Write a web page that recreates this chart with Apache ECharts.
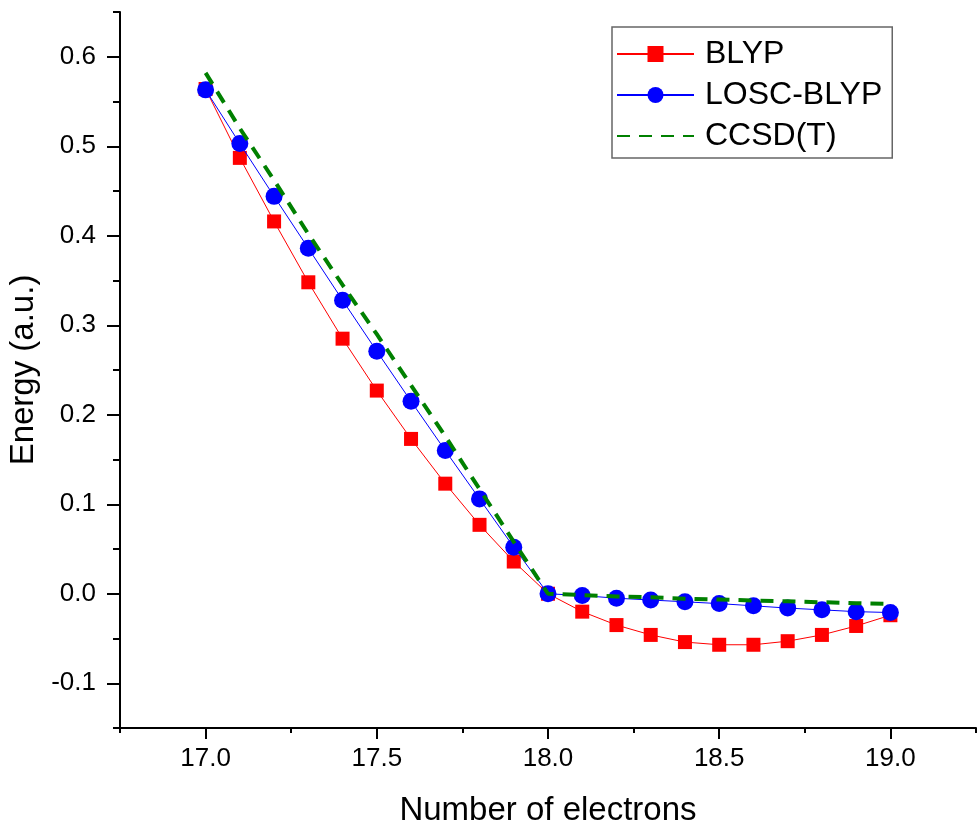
<!DOCTYPE html>
<html>
<head>
<meta charset="utf-8">
<title>energy</title>
<style>
  body { margin: 0; background: #fff; }
</style>
</head>
<body>
<div id="main" style="width: 978px; height: 827px;"></div>
<script src="https://cdn.jsdelivr.net/npm/echarts@6/dist/echarts.min.js"></script>
<script>
var electrons = [17.0, 17.1, 17.2, 17.3, 17.4, 17.5, 17.6, 17.7, 17.8, 17.9, 18.0,
                 18.1, 18.2, 18.3, 18.4, 18.5, 18.6, 18.7, 18.8, 18.9, 19.0];
var blyp = [0.564, 0.487, 0.416, 0.348, 0.285, 0.227, 0.173, 0.123, 0.077, 0.036, 0.0,
            -0.020, -0.035, -0.046, -0.054, -0.057, -0.057, -0.053, -0.046, -0.036, -0.024];
var losc = [0.563, 0.503, 0.444, 0.386, 0.328, 0.271, 0.215, 0.160, 0.106, 0.052, 0.0,
            -0.002, -0.005, -0.007, -0.009, -0.011, -0.0135, -0.016, -0.018, -0.020, -0.021];
var ccsdt = [0.582, 0.520, 0.462, 0.402, 0.345, 0.290, 0.233, 0.176, 0.117, 0.058, 0.0,
             -0.0015, -0.003, -0.004, -0.0055, -0.0065, -0.0075, -0.0085, -0.0095, -0.0105, -0.0115];
var xLabels = [17.0, 17.5, 18.0, 18.5, 19.0];
var yLabels = [-0.1, 0.0, 0.1, 0.2, 0.3, 0.4, 0.5, 0.6];

function pairs(ys) {
    return electrons.map(function (x, i) { return [x, ys[i]]; });
}

var myChart = echarts.init(document.getElementById('main'));
var font = 'Liberation Sans, Arial, sans-serif';

var option = {
    backgroundColor: '#fff',
    animation: false,
    grid: { left: 120, right: 2, top: 12, bottom: 99, containLabel: false, outerBoundsMode: 'none' },
    legend: {
        orient: 'vertical',
        left: 612,
        top: 27,
        width: 287,
        height: 132,
        padding: [11, 10, 6, 4],
        itemGap: 9,
        itemWidth: 77,
        itemHeight: 20,
        borderColor: '#666',
        borderWidth: 1.5,
        textStyle: { fontFamily: font, fontSize: 32, color: '#000', padding: [0, 0, 0, 6] },
        data: ['BLYP', 'LOSC-BLYP', { name: 'CCSD(T)', itemStyle: { opacity: 0 } }]
    },
    xAxis: [{
        type: 'value',
        min: 16.75,
        max: 19.25,
        interval: 0.25,
        name: 'Number of electrons',
        nameLocation: 'middle',
        nameGap: 66,
        nameTextStyle: { fontFamily: font, fontSize: 33, color: '#000' },
        splitLine: { show: false },
        axisLine: { onZero: false, lineStyle: { color: '#000', width: 2 } },
        axisTick: { customValues: xLabels, length: 11, lineStyle: { color: '#000', width: 2 } },
        axisLabel: {
            customValues: xLabels,
            fontFamily: font, fontSize: 26, color: '#000', margin: 18,
            formatter: function (v) { return v.toFixed(1); }
        }
    }, {
        type: 'value',
        position: 'bottom',
        min: 16.75,
        max: 19.25,
        interval: 0.25,
        splitLine: { show: false },
        axisLine: { show: false, onZero: false },
        axisTick: { length: 5, lineStyle: { color: '#000', width: 2 } },
        axisLabel: { show: false }
    }],
    yAxis: [{
        type: 'value',
        min: -0.15,
        max: 0.65,
        interval: 0.05,
        name: 'Energy (a.u.)',
        nameLocation: 'middle',
        nameGap: 76,
        nameTextStyle: { fontFamily: font, fontSize: 33, color: '#000' },
        splitLine: { show: false },
        axisLine: { onZero: false, lineStyle: { color: '#000', width: 2 } },
        axisTick: { customValues: yLabels, length: 13, lineStyle: { color: '#000', width: 2 } },
        axisLabel: {
            customValues: yLabels,
            fontFamily: font, fontSize: 26, color: '#000', margin: 24,
            formatter: function (v) { return v.toFixed(1); }
        }
    }, {
        type: 'value',
        position: 'left',
        min: -0.15,
        max: 0.65,
        interval: 0.05,
        splitLine: { show: false },
        axisLine: { show: false, onZero: false },
        axisTick: { length: 7, lineStyle: { color: '#000', width: 2 } },
        axisLabel: { show: false }
    }],
    series: [{
        name: 'BLYP',
        type: 'line',
        data: pairs(blyp),
        symbol: 'rect',
        symbolSize: 14,
        color: '#ff0000',
        lineStyle: { color: '#ff0000', width: 1 },
        itemStyle: { color: '#ff0000' },
        z: 2
    }, {
        name: 'LOSC-BLYP',
        type: 'line',
        data: pairs(losc),
        symbol: 'circle',
        symbolSize: 17,
        color: '#0000ff',
        lineStyle: { color: '#0000ff', width: 1 },
        itemStyle: { color: '#0000ff' },
        z: 3
    }, {
        name: 'CCSD(T)',
        type: 'line',
        data: pairs(ccsdt),
        symbol: 'none',
        color: '#008000',
        lineStyle: { color: '#008000', width: 4, type: [13, 9] },
        z: 4
    }]
};

myChart.setOption(option);
</script>
</body>
</html>
